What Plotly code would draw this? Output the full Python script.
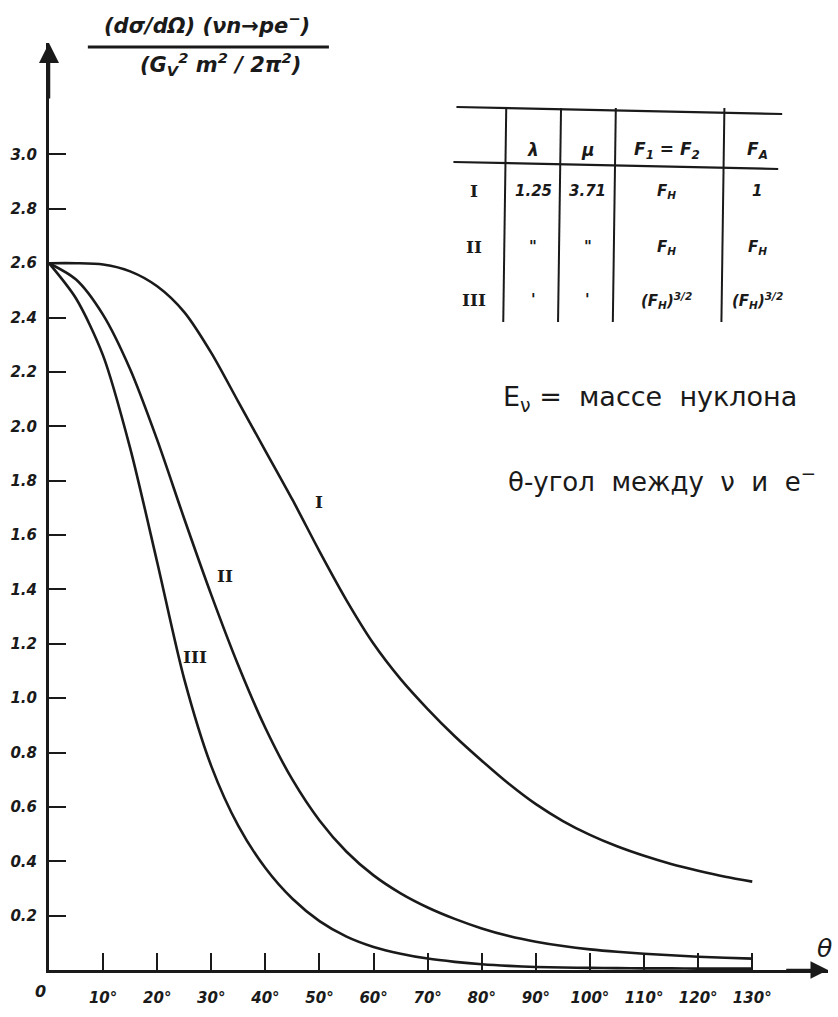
import plotly.graph_objects as go

# ---- data ----
theta = [0, 5, 10, 15, 20, 25, 30, 35, 40, 45, 50, 55, 60, 65, 70, 75, 80, 85, 90,
         95, 100, 105, 110, 115, 120, 125, 130]
curve_I = [2.60, 2.60, 2.595, 2.57, 2.515, 2.42, 2.27, 2.09, 1.91, 1.73, 1.54, 1.36, 1.20,
           1.07, 0.96, 0.86, 0.77, 0.685, 0.61, 0.548, 0.497, 0.455, 0.42, 0.39, 0.365, 0.343, 0.325]
curve_II = [2.60, 2.54, 2.41, 2.21, 1.95, 1.66, 1.38, 1.12, 0.89, 0.70, 0.55, 0.435, 0.348,
            0.282, 0.23, 0.188, 0.153, 0.125, 0.104, 0.088, 0.076, 0.067, 0.060, 0.054, 0.049, 0.045, 0.042]
curve_III = [2.60, 2.47, 2.26, 1.92, 1.50, 1.07, 0.75, 0.53, 0.375, 0.262, 0.180, 0.123, 0.085,
             0.060, 0.042, 0.030, 0.021, 0.015, 0.011, 0.009, 0.008, 0.007, 0.006, 0.006, 0.005, 0.005, 0.005]

y_ticks = [0.2, 0.4, 0.6, 0.8, 1.0, 1.2, 1.4, 1.6, 1.8, 2.0, 2.2, 2.4, 2.6, 2.8, 3.0]
y_ticktext = ["0.2", "0.4", "0.6", "0.8", "1.0", "1.2", "1.4", "1.6", "1.8", "2.0",
              "2.2", "2.4", "2.6", "2.8", "3.0"]
x_ticks = [10, 20, 30, 40, 50, 60, 70, 80, 90, 100, 110, 120, 130]
x_ticktext = [f"{v}°" for v in x_ticks]

curve_names = ["I", "II", "III"]
curve_label_pos = [(50.0, 1.72), (32.5, 1.45), (27.0, 1.15)]

table_header = ["λ", "μ", "F<sub>1</sub> = F<sub>2</sub>", "F<sub>A</sub>"]
table_rows = [
    ["I", "1.25", "3.71", "F<sub>Н</sub>", "1"],
    ["II", "\"", "\"", "F<sub>Н</sub>", "F<sub>Н</sub>"],
    ["III", "'", "'", "(F<sub>Н</sub>)<sup>3/2</sup>", "(F<sub>Н</sub>)<sup>3/2</sup>"],
]

# ---- layout geometry (pixels) ----
W, H = 838, 1017
L, R, T, B = 46, 10, 43, 47
PW, PH = W - L - R, H - T - B


def px(x):
    return (x - L) / PW


def py(y):
    return (H - B - y) / PH


INK = "#1a1a1a"
fig = go.Figure()
for name, ys in zip(curve_names, [curve_I, curve_II, curve_III]):
    fig.add_trace(go.Scatter(x=theta, y=ys, mode="lines", name=name,
                             line=dict(color=INK, width=2.6, shape="spline", smoothing=0.8),
                             showlegend=False))

annotations = []
shapes = []


def note(xp, yp, text, size, family="DejaVu Sans", xanchor="center"):
    annotations.append(dict(x=px(xp), y=py(yp), xref="paper", yref="paper", text=text,
                            showarrow=False, xanchor=xanchor, yanchor="middle",
                            font=dict(family=family, size=size, color=INK)))


# curve labels
for name, (cx, cy) in zip(curve_names, curve_label_pos):
    annotations.append(dict(x=cx, y=cy, xref="x", yref="y", text=f"<b>{name}</b>",
                            showarrow=False, xanchor="center", yanchor="middle",
                            font=dict(family="DejaVu Serif", size=17, color=INK)))

# axis arrows
annotations.append(dict(x=0, y=3.41, xref="x", yref="y", ax=0, ay=3.2, axref="x", ayref="y",
                        showarrow=True, arrowhead=2, arrowsize=1.6, arrowwidth=2.5, arrowcolor=INK, text=""))
annotations.append(dict(x=144, y=0, xref="x", yref="y", ax=136, ay=0, axref="x", ayref="y",
                        showarrow=True, arrowhead=2, arrowsize=1.4, arrowwidth=2.5, arrowcolor=INK, text=""))

# origin label and theta
note(37, 991, "<b><i>0</i></b>", 16)
note(824, 948, "<i>θ</i>", 25)

# y-axis title as fraction
note(205, 24, "<b><i>(dσ/dΩ) (νn→pe<sup>−</sup>)</i></b>", 21)
note(218, 64, "<b><i>(G<sub>V</sub><sup>2</sup> m<sup>2</sup> / 2π<sup>2</sup>)</i></b>", 21)
shapes.append(dict(type="line", xref="paper", yref="paper", x0=px(85), x1=px(327), y0=py(47), y1=py(47),
                   line=dict(color=INK, width=3)))

# table lines
shapes.append(dict(type="line", xref="paper", yref="paper", x0=px(455), x1=px(782), y0=py(107), y1=py(114),
                   line=dict(color=INK, width=2.2)))
shapes.append(dict(type="line", xref="paper", yref="paper", x0=px(452), x1=px(778), y0=py(162), y1=py(169),
                   line=dict(color=INK, width=2.2)))
for vx in [505, 560, 615, 724]:
    shapes.append(dict(type="line", xref="paper", yref="paper", x0=px(vx), x1=px(vx - 3),
                       y0=py(108), y1=py(322), line=dict(color=INK, width=2)))

col_x = [473, 532, 587, 666, 757]
for hx, ht in zip(col_x[1:], table_header):
    note(hx, 150, f"<b><i>{ht}</i></b>", 17)
row_y = [191, 247, 300]
for ry, row in zip(row_y, table_rows):
    for ci, (cx, cell) in enumerate(zip(col_x, row)):
        if ci == 0:
            note(cx, ry, f"<b>{cell}</b>", 17, family="DejaVu Serif")
        else:
            note(cx, ry, f"<b><i>{cell}</i></b>", 15)

# notes
note(500, 398, "E<sub>ν</sub> =  массе  нуклона", 27, xanchor="left")
note(505, 480, "θ-угол  между  ν  и  e<sup>−</sup>", 26, xanchor="left")

fig.update_layout(
    width=W, height=H, margin=dict(l=L, r=R, t=T, b=B),
    paper_bgcolor="white", plot_bgcolor="white",
    annotations=annotations, shapes=shapes,
    xaxis=dict(range=[0, 144], showgrid=False, zeroline=False, showline=True, linecolor=INK, linewidth=3,
               tickvals=x_ticks, ticktext=x_ticktext, ticks="inside", ticklen=17, tickwidth=2, tickcolor=INK,
               ticklabelstandoff=12,
               tickfont=dict(family="DejaVu Sans", size=15, color=INK, weight="bold", style="italic")),
    yaxis=dict(range=[0, 3.41], showgrid=False, zeroline=False, showline=True, linecolor=INK, linewidth=3,
               tickvals=y_ticks, ticktext=y_ticktext, ticks="inside", ticklen=17, tickwidth=2, tickcolor=INK,
               ticklabelstandoff=6,
               tickfont=dict(family="DejaVu Sans", size=15, color=INK, weight="bold", style="italic")),
)

fig.write_html("out.html")
